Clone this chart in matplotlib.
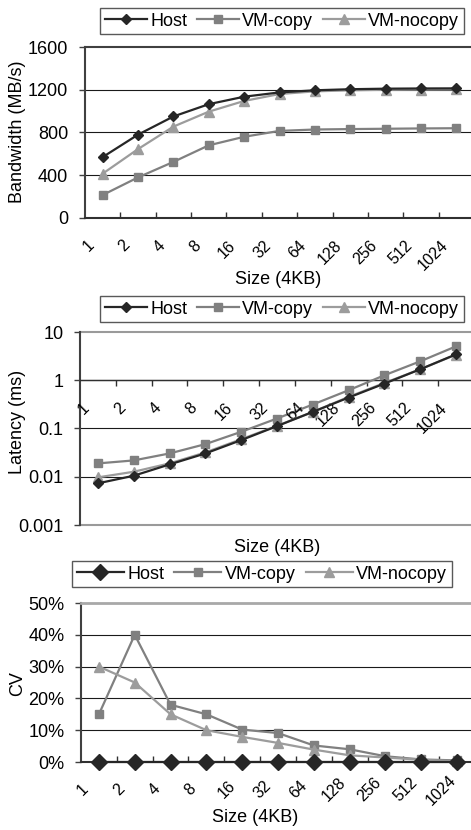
import matplotlib
matplotlib.use("Agg")
import matplotlib.pyplot as plt
import matplotlib.transforms as mtransforms
import numpy as np

plt.rcParams['font.family'] = ['Liberation Sans', 'DejaVu Sans']

sizes = ["1", "2", "4", "8", "16", "32", "64", "128", "256", "512", "1024"]
series_names = ["Host", "VM-copy", "VM-nocopy"]

bw_host = [570, 780, 950, 1065, 1135, 1175, 1195, 1205, 1210, 1212, 1213]
bw_copy = [215, 380, 525, 680, 760, 815, 828, 832, 835, 838, 840]
bw_nocopy = [415, 645, 855, 995, 1095, 1160, 1185, 1195, 1200, 1202, 1203]

lat_host = [0.0073, 0.0105, 0.018, 0.0304, 0.0574, 0.112, 0.221, 0.438, 0.853, 1.69, 3.45]
lat_copy = [0.0189, 0.0218, 0.0304, 0.0474, 0.0853, 0.161, 0.314, 0.621, 1.27, 2.47, 5.05]
lat_nocopy = [0.0097, 0.0127, 0.0189, 0.0319, 0.060, 0.1135, 0.221, 0.452, 0.88, 1.69, 3.4]

cv_host = [0, 0, 0, 0, 0, 0, 0, 0, 0, 0, 0]
cv_copy = [15, 40, 18, 15, 10.2, 9.1, 5.2, 4.0, 1.8, 0.8, 0.5]
cv_nocopy = [30, 25, 15, 10, 7.9, 6.0, 3.9, 2.1, 1.4, 0.7, 0.2]

bw_ticks = [0, 400, 800, 1200, 1600]
lat_ticks = [0.001, 0.01, 0.1, 1, 10]
lat_ticklabels = ["0.001", "0.01", "0.1", "1", "10"]
cv_ticks = [0, 10, 20, 30, 40, 50]

C_HOST = "#262626"
C_COPY = "#808080"
C_NOCOPY = "#9c9c9c"
GRID = "#1a1a1a"
FS = 13
TFS = 11.5

W, H = 471, 830
fig = plt.figure(figsize=(W / 100, H / 100), dpi=100)

def px_axes(left, top, right, bottom):
    return fig.add_axes([left / W, 1 - bottom / H, (right - left) / W, (bottom - top) / H])

x = np.arange(len(sizes))

def style_common(ax):
    ax.set_xlim(-0.5, len(sizes) - 0.5)
    ax.spines['right'].set_visible(False)
    ax.spines['left'].set_color("#404040")
    ax.spines['left'].set_linewidth(1.5)
    ax.tick_params(axis='y', direction='out', length=4, width=1, color="#404040",
                   labelsize=FS, pad=8)
    ax.set_xticks(np.arange(0.5, len(sizes) - 0.5, 1.0))
    ax.set_xticklabels([])

def plot_series(ax, ys, host_ms=5):
    ax.plot(x, ys[1], color=C_COPY, lw=1.6, marker='s', ms=6, mfc=C_COPY, mec=C_COPY,
            label=series_names[1], zorder=3, clip_on=False)
    ax.plot(x, ys[2], color=C_NOCOPY, lw=1.6, marker='^', ms=6.5, mfc=C_NOCOPY, mec=C_NOCOPY,
            label=series_names[2], zorder=4, clip_on=False)
    ax.plot(x, ys[0], color=C_HOST, lw=1.6, marker='D', ms=host_ms, mfc=C_HOST, mec=C_HOST,
            label=series_names[0], zorder=5, clip_on=False)

def add_legend(ax, cx, cy, handlelength=2.3, colsp=0.55):
    h, l = ax.get_legend_handles_labels()
    order = [l.index(n) for n in series_names]
    leg = fig.legend([h[i] for i in order], [l[i] for i in order], loc='center',
                     bbox_to_anchor=(cx / W, 1 - cy / H), ncol=3, fontsize=FS,
                     frameon=True, fancybox=False, edgecolor="#303030",
                     handlelength=handlelength, handletextpad=0.2, columnspacing=colsp,
                     borderpad=0.25, borderaxespad=0)
    leg.get_frame().set_linewidth(1.0)

def rotated_labels(ax, ybase_transform, dx_pt, dy_pt, ha, va):
    for i, s in enumerate(sizes):
        tr = mtransforms.offset_copy(ybase_transform, fig=fig, x=dx_pt, y=dy_pt, units='points')
        ax.text(i - 0.5, 0 if ybase_transform is ax.get_xaxis_transform() else 1, s,
                transform=tr, rotation=45, rotation_mode='anchor', ha=ha, va=va,
                fontsize=TFS, clip_on=False)

# ---------------- Panel 1: Bandwidth ----------------
ax1 = px_axes(85, 47, 474, 218)
style_common(ax1)
plot_series(ax1, [bw_host, bw_copy, bw_nocopy])
ax1.set_ylim(0, 1600)
ax1.set_yticks(bw_ticks)
for v in bw_ticks[1:-1]:
    ax1.axhline(v, color=GRID, lw=0.8, zorder=1)
ax1.spines['top'].set_color("#404040")
ax1.spines['top'].set_linewidth(1.5)
ax1.spines['bottom'].set_color("#303030")
ax1.spines['bottom'].set_linewidth(1.5)
ax1.tick_params(axis='x', direction='in', length=4, width=1, color="#303030")
rotated_labels(ax1, ax1.get_xaxis_transform(), 5, -18, 'right', 'center')
fig.text(18 / W, 1 - 132 / H, "Bandwidth (MB/s)", rotation=90, ha='center', va='center', fontsize=FS)
fig.text(278 / W, 1 - 280 / H, "Size (4KB)", ha='center', va='center', fontsize=FS)
add_legend(ax1, 282, 21)

# ---------------- Panel 2: Latency ----------------
ax2 = px_axes(80, 332, 474, 525)
style_common(ax2)
ax2.set_yscale('log')
plot_series(ax2, [lat_host, lat_copy, lat_nocopy])
ax2.set_ylim(0.001, 10)
ax2.set_yticks(lat_ticks)
ax2.set_yticklabels(lat_ticklabels)
ax2.yaxis.set_minor_locator(matplotlib.ticker.NullLocator())
for v in lat_ticks:
    edge = v in (lat_ticks[0], lat_ticks[-1])
    ax2.axhline(v, color="#9a9a9a" if edge else GRID, lw=1.5 if edge else 0.8, zorder=1, clip_on=False)
ax2.spines['top'].set_visible(False)
ax2.spines['bottom'].set_position(('data', 1))
ax2.spines['bottom'].set_color("#303030")
ax2.spines['bottom'].set_linewidth(1.0)
ax2.tick_params(axis='x', direction='out', length=4, width=1, color="#303030")
blend2 = mtransforms.blended_transform_factory(ax2.transData, ax2.transData)
for i, s in enumerate(sizes):
    tr = mtransforms.offset_copy(blend2, fig=fig, x=5, y=-18, units='points')
    ax2.text(i - 0.5, 1, s, transform=tr, rotation=45, rotation_mode='anchor',
             ha='right', va='center', fontsize=TFS, clip_on=False)
fig.text(18 / W, 1 - 422 / H, "Latency (ms)", rotation=90, ha='center', va='center', fontsize=FS)
fig.text(277 / W, 1 - 547 / H, "Size (4KB)", ha='center', va='center', fontsize=FS)
add_legend(ax2, 282, 309)

# ---------------- Panel 3: CV ----------------
ax3 = px_axes(81, 603, 475, 762)
style_common(ax3)
plot_series(ax3, [cv_host, cv_copy, cv_nocopy], host_ms=8.5)
ax3.set_ylim(0, 50)
ax3.set_yticks(cv_ticks)
ax3.set_yticklabels([f"{v}%" for v in cv_ticks])
for v in cv_ticks[1:-1]:
    ax3.axhline(v, color=GRID, lw=0.8, zorder=1)
ax3.spines['top'].set_color("#a8a8a8")
ax3.spines['top'].set_linewidth(2.0)
ax3.spines['bottom'].set_color("#303030")
ax3.spines['bottom'].set_linewidth(1.5)
ax3.tick_params(axis='x', direction='in', length=4, width=1, color="#303030")
for i, s in enumerate(sizes):
    tr = mtransforms.offset_copy(ax3.get_xaxis_transform(), fig=fig, x=1.5, y=-20, units='points')
    ax3.text(i - 0.5, 0, s, transform=tr, rotation=45, rotation_mode='anchor',
             ha='center', va='center', fontsize=TFS, clip_on=False)
fig.text(18 / W, 1 - 684 / H, "CV", rotation=90, ha='center', va='center', fontsize=FS)
fig.text(255 / W, 1 - 817 / H, "Size (4KB)", ha='center', va='center', fontsize=FS)
add_legend(ax3, 262, 574, handlelength=2.6)

fig.savefig("out.png", dpi=100)
